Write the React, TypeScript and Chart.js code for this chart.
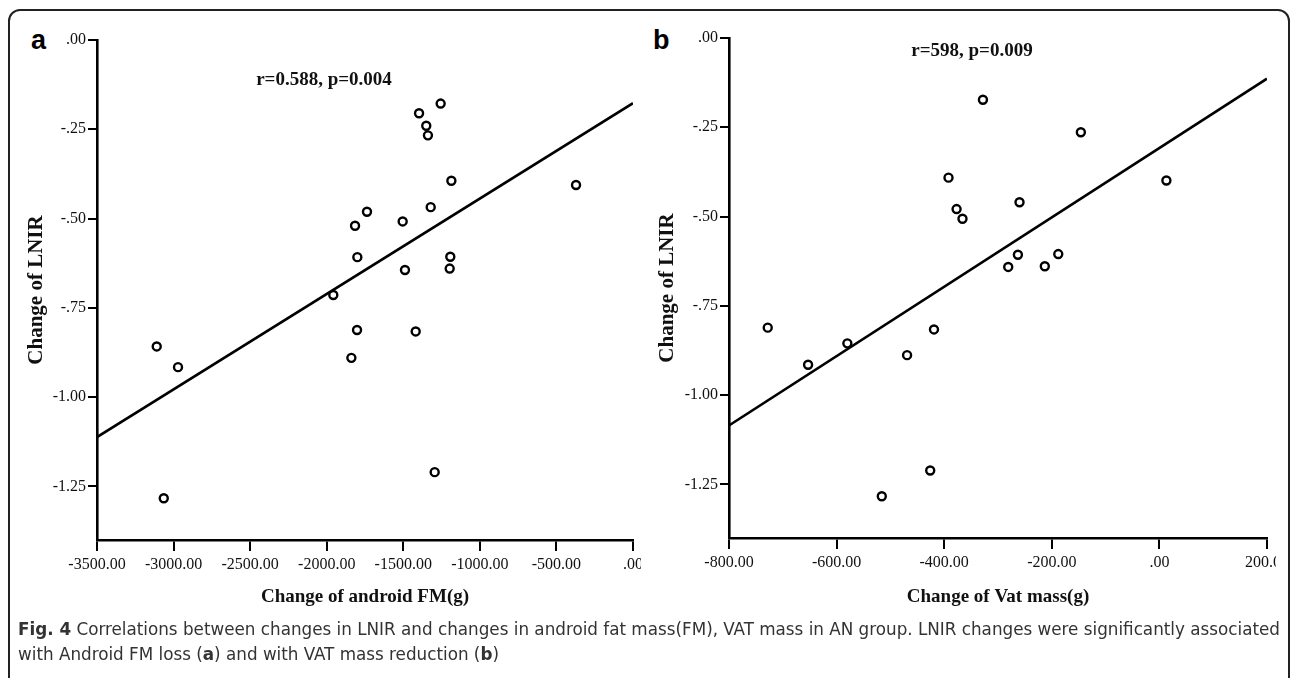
import React, { useEffect, useLayoutEffect, useRef } from "react";
import { Chart, registerables } from "chart.js";

Chart.register(...registerables);

// ---------- Data ----------
// Panel a: change of android FM (g) vs change of LNIR
const fmChangeA = [-1397, -1256, -1350, -1339, -1186, -372, -1737, -1815, -1504, -1321, -1800, -1489, -1193, -1197, -1957, -1802, -1839, -1419, -1295, -3110, -2971, -3064];
const lnirChangeA = [-0.205, -0.178, -0.24, -0.267, -0.394, -0.406, -0.481, -0.52, -0.508, -0.468, -0.608, -0.644, -0.607, -0.64, -0.714, -0.812, -0.89, -0.816, -1.21, -0.858, -0.916, -1.283];
const fitXA = [-3500, 0];
const fitYA = [-1.112, -0.177];
const xTicksA = [-3500, -3000, -2500, -2000, -1500, -1000, -500, 0];

// Panel b: change of VAT mass (g) vs change of LNIR
const vatChangeB = [-392, -377, -366, -328, -146, 13, -260, -263, -281, -213, -188, -728, -653, -580, -469, -419, -426, -516];
const lnirChangeB = [-0.391, -0.479, -0.506, -0.173, -0.264, -0.399, -0.46, -0.607, -0.641, -0.639, -0.605, -0.811, -0.915, -0.855, -0.888, -0.816, -1.211, -1.283];
const fitXB = [-800, 200];
const fitYB = [-1.085, -0.114];
const xTicksB = [-800, -600, -400, -200, 0, 200];

const yTicks = [0, -0.25, -0.5, -0.75, -1.0, -1.25];
const yMin = -1.4;
const yMax = 0;

const xTitleA = "Change of android FM(g)";
const xTitleB = "Change of Vat mass(g)";
const yTitle = "Change of LNIR";
const statA = "r=0.588, p=0.004";
const statB = "r=598, p=0.009";

const SERIF = '"Liberation Serif", "Times New Roman", serif';

function fmt(v: number): string {
  let s = Math.abs(v).toFixed(2);
  if (s.startsWith("0.")) s = s.slice(1);
  return (v < 0 ? "-" : "") + s;
}

type PanelProps = {
  xs: number[];
  ys: number[];
  fitX: number[];
  fitY: number[];
  xTicks: number[];
  xTitle: string;
  left: number;
  top: number;
  width: number;
  height: number;
  yAxisW: number;
  yTitlePad: number;
  xTitlePad: number;
  rightPad: number;
};

function Panel(p: PanelProps) {
  const ref = useRef<HTMLCanvasElement | null>(null);
  useEffect(() => {
    if (!ref.current) return;
    const chart = new Chart(ref.current, {
      type: "scatter",
      data: {
        datasets: [
          {
            type: "scatter",
            data: p.xs.map((x, i) => ({ x, y: p.ys[i] })),
            pointRadius: 4,
            pointHoverRadius: 4,
            pointBorderWidth: 2.4,
            borderColor: "#000",
            backgroundColor: "rgba(255,255,255,0)",
            order: 1,
          } as any,
          {
            type: "line",
            data: p.fitX.map((x, i) => ({ x, y: p.fitY[i] })),
            borderColor: "#000",
            borderWidth: 2.6,
            pointRadius: 0,
            showLine: true,
            fill: false,
            order: 2,
          } as any,
        ],
      },
      options: {
        animation: false,
        responsive: false,
        maintainAspectRatio: false,
        devicePixelRatio: 1,
        events: [],
        layout: { padding: { left: 0, top: 20, right: p.rightPad, bottom: 0 } },
        plugins: { legend: { display: false }, tooltip: { enabled: false } },
        scales: {
          x: {
            type: "linear",
            min: p.xTicks[0],
            max: p.xTicks[p.xTicks.length - 1],
            afterBuildTicks: (s: any) => {
              s.ticks = p.xTicks.map((v) => ({ value: v }));
            },
            afterFit: (s: any) => {
              s.height = 80;
              s.paddingLeft = 0;
              s.paddingRight = 0;
            },
            ticks: {
              callback: (v: any) => fmt(Number(v)),
              font: { family: SERIF, size: 16 },
              color: "#111",
              padding: 4,
              maxRotation: 0,
              autoSkip: false,
            },
            grid: { drawOnChartArea: false, drawTicks: true, tickLength: 11, color: "#000", lineWidth: 2, tickWidth: 2 },
            border: { display: true, color: "#000", width: 2.6 },
            title: {
              display: true,
              text: p.xTitle,
              font: { family: SERIF, size: 19, weight: "bold" },
              color: "#111",
              padding: { top: 0, bottom: p.xTitlePad },
            },
          },
          y: {
            type: "linear",
            min: yMin,
            max: yMax,
            afterBuildTicks: (s: any) => {
              s.ticks = yTicks.map((v) => ({ value: v }));
            },
            afterFit: (s: any) => {
              s.width = p.yAxisW;
              s.paddingTop = 0;
              s.paddingBottom = 0;
            },
            ticks: {
              callback: (v: any) => fmt(Number(v)),
              font: { family: SERIF, size: 16 },
              color: "#111",
              padding: 2,
              autoSkip: false,
            },
            grid: { drawOnChartArea: false, drawTicks: true, tickLength: 9, color: "#000", lineWidth: 2, tickWidth: 2 },
            border: { display: true, color: "#000", width: 2.6 },
            title: {
              display: true,
              text: yTitle,
              font: { family: SERIF, size: 21, weight: "bold" },
              color: "#111",
              padding: { top: p.yTitlePad, bottom: 0 },
            },
          },
        },
      } as any,
    });
    return () => chart.destroy();
  }, []);
  return (
    <canvas
      ref={ref}
      width={p.width}
      height={p.height}
      style={{ position: "absolute", left: p.left, top: p.top, width: p.width, height: p.height }}
    />
  );
}

export default function App() {
  const capRef = useRef<HTMLDivElement | null>(null);
  const line1Ref = useRef<HTMLSpanElement | null>(null);
  useLayoutEffect(() => {
    if (!capRef.current || !line1Ref.current) return;
    const w = line1Ref.current.getBoundingClientRect().width;
    if (w > 0) {
      const k = 1262 / w;
      capRef.current.style.transform = `scaleX(${k})`;
    }
  }, []);

  return (
    <div
      style={{
        position: "fixed",
        left: 0,
        top: 0,
        width: 1292,
        height: 678,
        background: "#fff",
        overflow: "hidden",
      }}
    >
      <div
        style={{
          position: "absolute",
          left: 8,
          top: 9,
          width: 1282,
          height: 720,
          border: "2px solid #222",
          borderRadius: 12,
          boxSizing: "border-box",
        }}
      />
      <div style={{ position: "absolute", left: 31, top: 27, font: "bold 27px 'Liberation Sans', Arial, sans-serif", lineHeight: "27px", color: "#000" }}>a</div>
      <div style={{ position: "absolute", left: 653, top: 27, font: "bold 27px 'Liberation Sans', Arial, sans-serif", lineHeight: "27px", color: "#000" }}>b</div>

      <Panel
        xs={fmChangeA}
        ys={lnirChangeA}
        fitX={fitXA}
        fitY={fitYA}
        xTicks={xTicksA}
        xTitle={xTitleA}
        left={20}
        top={20}
        width={621}
        height={600}
        yAxisW={77}
        yTitlePad={4}
        xTitlePad={12}
        rightPad={8}
      />
      <Panel
        xs={vatChangeB}
        ys={lnirChangeB}
        fitX={fitXB}
        fitY={fitYB}
        xTicks={xTicksB}
        xTitle={xTitleB}
        left={648}
        top={18}
        width={628}
        height={600}
        yAxisW={81}
        yTitlePad={7}
        xTitlePad={10}
        rightPad={9}
      />

      <div
        style={{
          position: "absolute",
          left: 324,
          top: 69,
          transform: "translateX(-50%)",
          font: `bold 19px ${SERIF}`,
          lineHeight: "19px",
          whiteSpace: "nowrap",
          color: "#111",
        }}
      >
        {statA}
      </div>
      <div
        style={{
          position: "absolute",
          left: 972,
          top: 40,
          transform: "translateX(-50%)",
          font: `bold 19px ${SERIF}`,
          lineHeight: "19px",
          whiteSpace: "nowrap",
          color: "#111",
        }}
      >
        {statB}
      </div>

      <div
        ref={capRef}
        style={{
          position: "absolute",
          left: 18,
          top: 616,
          transformOrigin: "0 0",
          font: "18px 'DejaVu Sans Condensed', 'Noto Sans', sans-serif",
          lineHeight: "25px",
          color: "#333",
          whiteSpace: "nowrap",
        }}
      >
        <span ref={line1Ref}>
          <b>Fig. 4</b> Correlations between changes in LNIR and changes in android fat mass(FM), VAT mass in AN group. LNIR changes were significantly associated
        </span>
        <br />
        <span>
          with Android FM loss (<b>a</b>) and with VAT mass reduction (<b>b</b>)
        </span>
      </div>
    </div>
  );
}
